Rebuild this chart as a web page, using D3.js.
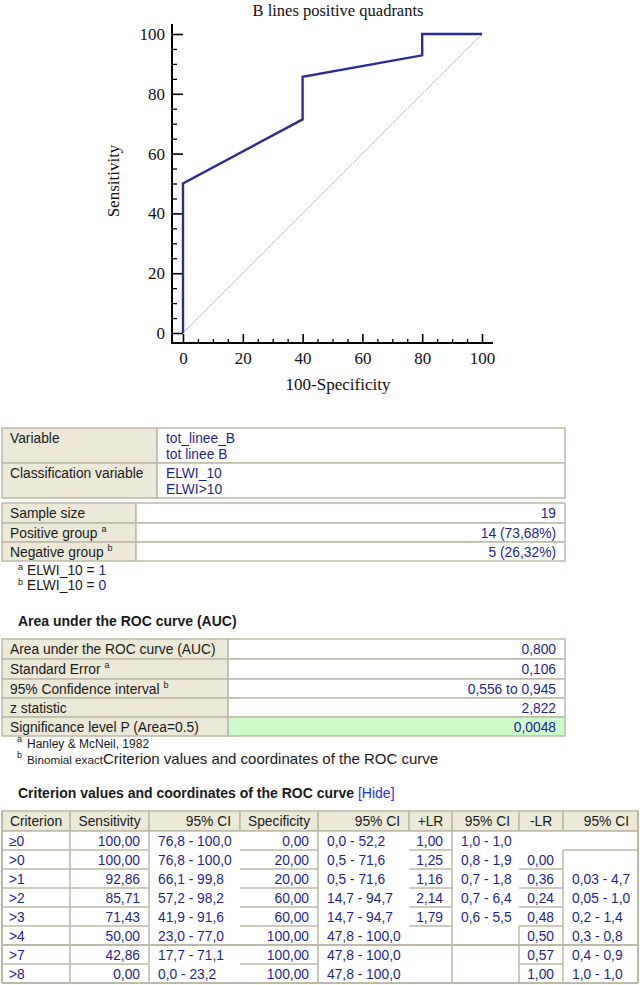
<!DOCTYPE html>
<html><head><meta charset="utf-8">
<script src="https://cdn.jsdelivr.net/npm/d3@7"></script>
<style>
html,body{margin:0;padding:0;background:#fff;}
svg{display:block;}
</style></head>
<body>
<script>
// ---------- DATA ----------
const chartTitle = "B lines positive quadrants";
const xTicks = [0, 20, 40, 60, 80, 100];
const yTicks = [0, 20, 40, 60, 80, 100];

const varLabels = ["Variable", "Classification variable"];
const varValues = [["tot_linee_B", "tot linee B"], ["ELWI_10", "ELWI>10"]];

const sampleLabels = ["Sample size", "Positive group", "Negative group"];
const sampleSup = ["", "a", "b"];
const sampleValues = ["19", "14 (73,68%)", "5 (26,32%)"];
const sampleNotes = [["a", "ELWI_10 = ", "1"], ["b", "ELWI_10 = ", "0"]];

const aucLabels = ["Area under the ROC curve (AUC)", "Standard Error", "95% Confidence interval", "z statistic", "Significance level P (Area=0.5)"];
const aucSup = ["", "a", "b", "", ""];
const aucValues = ["0,800", "0,106", "0,556 to 0,945", "2,822", "0,0048"];

const critHeaders = ["Criterion", "Sensitivity", "95% CI", "Specificity", "95% CI", "+LR", "95% CI", "-LR", "95% CI"];
const criteria = ["≥0", ">0", ">1", ">2", ">3", ">4", ">7", ">8"];
const sensitivity = [100, 100, 92.86, 85.71, 71.43, 50, 42.86, 0];
const sensCI = ["76,8 - 100,0", "76,8 - 100,0", "66,1 - 99,8", "57,2 - 98,2", "41,9 - 91,6", "23,0 - 77,0", "17,7 - 71,1", "0,0 - 23,2"];
const specificity = [0, 20, 20, 60, 60, 100, 100, 100];
const specCI = ["0,0 - 52,2", "0,5 - 71,6", "0,5 - 71,6", "14,7 - 94,7", "14,7 - 94,7", "47,8 - 100,0", "47,8 - 100,0", "47,8 - 100,0"];
const plusLR = ["1,00", "1,25", "1,16", "2,14", "1,79", "", "", ""];
const plusLRCI = ["1,0 - 1,0", "0,8 - 1,9", "0,7 - 1,8", "0,7 - 6,4", "0,6 - 5,5", "", "", ""];
const minusLR = ["", "0,00", "0,36", "0,24", "0,48", "0,50", "0,57", "1,00"];
const minusLRCI = ["", "", "0,03 - 4,7", "0,05 - 1,0", "0,2 - 1,4", "0,3 - 0,8", "0,4 - 0,9", "1,0 - 1,0"];

// ---------- STYLE ----------
const BLUE = "#1f1f96", BEIGE = "#ece9d8", GRID = "#bdb9a9", TXT = "#1a1a1a";
const SANS = "'Liberation Sans', Arial, sans-serif", SERIF = "'Liberation Serif', 'Times New Roman', serif";
const FS = 13.8;
const fmt2 = v => d3.format(".2f")(v).replace(".", ",");

const svg = d3.select("body").append("svg").attr("width", 640).attr("height", 985);

// ---------- CHART ----------
const x = d3.scaleLinear().domain([0, 100]).range([183, 482]);
const y = d3.scaleLinear().domain([0, 100]).range([333, 34]);

svg.append("text").attr("x", 338).attr("y", 16).attr("text-anchor", "middle")
  .attr("font-family", SERIF).attr("font-size", 16.5).attr("fill", "#111").text(chartTitle);

// minor ticks
const minor = d3.range(0, 101, 5).filter(v => v % 20 !== 0);
svg.append("g").attr("transform", "translate(172,0)")
  .call(d3.axisLeft(y).tickValues(minor).tickSize(-5).tickFormat(""))
  .call(g => g.select(".domain").remove())
  .call(g => g.selectAll("line").attr("stroke", "#000").attr("stroke-width", 1.3));
svg.append("g").attr("transform", "translate(0,343)")
  .call(d3.axisBottom(x).tickValues(minor).tickSize(-4).tickFormat(""))
  .call(g => g.select(".domain").remove())
  .call(g => g.selectAll("line").attr("stroke", "#000").attr("stroke-width", 1.3));

// major
svg.append("g").attr("transform", "translate(172,0)")
  .call(d3.axisLeft(y).tickValues(yTicks).tickSize(-11).tickPadding(7))
  .call(g => g.select(".domain").remove())
  .call(g => g.selectAll("line").attr("stroke", "#000").attr("stroke-width", 1.6))
  .call(g => g.selectAll("text").attr("font-family", SERIF).attr("font-size", 17).attr("fill", "#111"));
svg.append("g").attr("transform", "translate(0,343)")
  .call(d3.axisBottom(x).tickValues(xTicks).tickSize(-9).tickPadding(9))
  .call(g => g.select(".domain").remove())
  .call(g => g.selectAll("line").attr("stroke", "#000").attr("stroke-width", 1.6))
  .call(g => g.selectAll("text").attr("font-family", SERIF).attr("font-size", 17).attr("fill", "#111"));

// axis lines
svg.append("line").attr("x1", 172).attr("x2", 172).attr("y1", 24).attr("y2", 344)
  .attr("stroke", "#000").attr("stroke-width", 2);
svg.append("line").attr("x1", 171).attr("x2", 493).attr("y1", 343).attr("y2", 343)
  .attr("stroke", "#000").attr("stroke-width", 2);

svg.append("text").attr("x", 338).attr("y", 390).attr("text-anchor", "middle")
  .attr("font-family", SERIF).attr("font-size", 17).attr("fill", "#111").text("100-Specificity");
svg.append("text").attr("transform", "translate(119,181) rotate(-90)").attr("text-anchor", "middle")
  .attr("font-family", SERIF).attr("font-size", 17).attr("fill", "#111").text("Sensitivity");

// diagonal
svg.append("path").attr("d", d3.line()([[x(0), y(0)], [x(100), y(100)]]))
  .attr("stroke", "#e07d7d").attr("stroke-width", 0.9).attr("stroke-dasharray", "2,1").attr("fill", "none");

// ROC curve from table coordinates
const rocPts = criteria.map((c, i) => [100 - specificity[i], sensitivity[i]]).reverse();
svg.append("path").datum(rocPts)
  .attr("d", d3.line().x(d => x(d[0])).y(d => y(d[1])))
  .attr("fill", "none").attr("stroke", "#2b2d96").attr("stroke-width", 2.4)
  .attr("stroke-linejoin", "miter");

// ---------- TABLE HELPERS ----------
function rect(x0, y0, w, h, fill) {
  svg.append("rect").attr("x", x0).attr("y", y0).attr("width", w).attr("height", h)
    .attr("fill", fill).attr("stroke", GRID).attr("stroke-width", 1.5);
}
function txt(x0, y0, s, opt = {}) {
  const t = svg.append("text").attr("x", x0).attr("y", y0)
    .attr("font-family", SANS).attr("font-size", opt.size || FS)
    .attr("fill", opt.fill || TXT).attr("text-anchor", opt.anchor || "start")
    .attr("font-weight", opt.weight || "normal");
  t.text(s);
  return t;
}
function labelSup(x0, y0, s, sup) {
  const t = txt(x0, y0, s);
  if (sup) t.append("tspan").attr("dx", 4).attr("dy", -6).attr("font-size", 9).text(sup);
}
function hline(x1, x2, yy, w = 1.5) {
  svg.append("line").attr("x1", x1).attr("x2", x2).attr("y1", yy).attr("y2", yy)
    .attr("stroke", GRID).attr("stroke-width", w);
}
function vline(xx, y1, y2, w = 1.5) {
  svg.append("line").attr("x1", xx).attr("x2", xx).attr("y1", y1).attr("y2", y2)
    .attr("stroke", GRID).attr("stroke-width", w);
}

// ---------- TABLE 1 ----------
const t1Rows = [428, 463, 498];
varLabels.forEach((lab, i) => {
  rect(2, t1Rows[i], 155, t1Rows[i + 1] - t1Rows[i], BEIGE);
  rect(157, t1Rows[i], 408, t1Rows[i + 1] - t1Rows[i], "#fff");
  txt(10, t1Rows[i] + 15, lab);
  varValues[i].forEach((v, j) => txt(166, t1Rows[i] + 15 + j * 16, v, { fill: BLUE }));
});

// ---------- TABLE 2 ----------
const t2Rows = [503, 523, 542, 561];
sampleLabels.forEach((lab, i) => {
  rect(2, t2Rows[i], 134, t2Rows[i + 1] - t2Rows[i], BEIGE);
  rect(136, t2Rows[i], 429, t2Rows[i + 1] - t2Rows[i], "#fff");
  labelSup(10, t2Rows[i] + 15, lab, sampleSup[i]);
  txt(556, t2Rows[i] + 15, sampleValues[i], { fill: BLUE, anchor: "end" });
});
sampleNotes.forEach((n, i) => {
  const yy = 575 + i * 15;
  txt(18, yy - 5, n[0], { size: 9 });
  const t = txt(27, yy, n[1]);
  t.append("tspan").attr("fill", BLUE).text(n[2]);
});

// ---------- AUC ----------
txt(18, 626, "Area under the ROC curve (AUC)", { weight: "bold", size: 14 });
const aucRows = [639, 659, 679, 698, 717, 736];
aucLabels.forEach((lab, i) => {
  rect(2, aucRows[i], 226, aucRows[i + 1] - aucRows[i], BEIGE);
  rect(228, aucRows[i], 337, aucRows[i + 1] - aucRows[i], i === aucLabels.length - 1 ? "#ccfccc" : "#fff");
  labelSup(10, aucRows[i] + 15, lab, aucSup[i]);
  txt(556, aucRows[i] + 15, aucValues[i], { fill: BLUE, anchor: "end" });
});
txt(17, 742, "a", { size: 9 });
txt(27, 748, "Hanley & McNeil, 1982", { size: 12 });
txt(17, 758, "b", { size: 9 });
const fn = txt(27, 764, "Binomial exact", { size: 11.7 });
fn.append("tspan").attr("font-size", 15).text("Criterion values and coordinates of the ROC curve");

// ---------- CRITERION TABLE ----------
const hd = txt(18, 798, "Criterion values and coordinates of the ROC curve", { weight: "bold", size: 14 });
hd.append("tspan").attr("font-weight", "normal").attr("fill", "#2b2bff").text(" [Hide]");

const colX = [2, 70, 149, 240, 318, 409, 452, 519, 563, 638];
const hTop = 811, hBot = 831, rowH = 19;
const rowY = criteria.map((c, i) => hBot + i * rowH);
const bottom = hBot + criteria.length * rowH;

// header
critHeaders.forEach((h, j) => {
  rect(colX[j], hTop, colX[j + 1] - colX[j], hBot - hTop, BEIGE);
  const isCI = h === "95% CI";
  txt(isCI ? colX[j + 1] - 9 : (colX[j] + colX[j + 1]) / 2, hTop + 15, h, { anchor: isCI ? "end" : "middle" });
});
// body background
svg.append("rect").attr("x", 2).attr("y", hBot).attr("width", 636).attr("height", bottom - hBot).attr("fill", "#fff");

// grid (irregular like reference)
[70, 149, 318, 452].forEach(xx => vline(xx, hBot, bottom));
vline(2, hTop, bottom, 2); vline(638, hTop, bottom, 2);
vline(519, rowY[5], bottom);
vline(563, rowY[1], bottom);
rowY.slice(1).forEach((yy, k) => {
  const r = k; // bottom of row r
  hline(2, 149, yy);
  hline(240, 318, yy);
  if (r <= 4) hline(409, 452, yy);
  if (r >= 1) hline(519, 563, yy);
  if (r === 0) hline(563, 638, yy);
  if (r === 5) hline(2, 638, yy, 2);
});
hline(2, 638, bottom, 2);
hline(2, 638, hBot, 1.5);

// cells
const cols = [
  criteria, sensitivity.map(fmt2), sensCI, specificity.map(fmt2), specCI,
  plusLR, plusLRCI, minusLR, minusLRCI
];
const align = ["start", "end", "start", "end", "start", "end", "start", "end", "start"];
cols.forEach((col, j) => {
  col.forEach((v, i) => {
    if (!v) return;
    const xx = align[j] === "end" ? colX[j + 1] - 9 : colX[j] + (j === 0 ? 7 : 9);
    txt(xx, rowY[i] + 14.5, v, { fill: BLUE, anchor: align[j] });
  });
});
</script>
</body></html>
